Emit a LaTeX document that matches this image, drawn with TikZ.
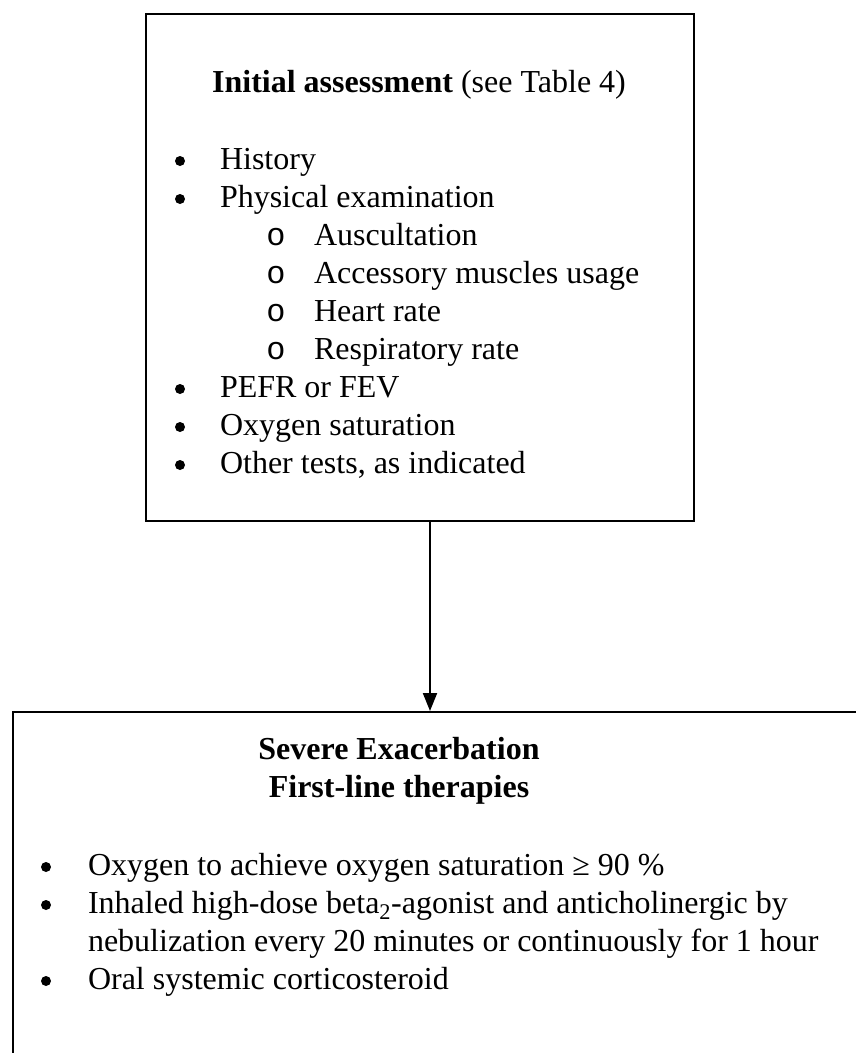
\documentclass[tikz,border=0pt]{standalone}
\usepackage{fontspec}
\setmainfont{Liberation Serif}
\newfontfamily\subbulletfont{Liberation Mono}
\usetikzlibrary{arrows.meta}
\tikzset{
  boxframe/.style={draw=black, line width=2pt, inner sep=0pt},
  txt/.style={anchor=base west, inner sep=0pt, outer sep=0pt},
  ctr/.style={anchor=base, inner sep=0pt, outer sep=0pt},
  bul/.style={circle, fill=black, inner sep=0pt, minimum size=10pt},
  subbul/.style={anchor=base, inner sep=0pt, outer sep=0pt, font=\fontsize{32}{38}\subbulletfont},
  flow/.style={draw=black, line width=2pt, -{Triangle[length=18pt,width=14pt]}}
}
\begin{document}
\begin{tikzpicture}[x=1pt,y=-1pt,font=\fontsize{32}{38}\selectfont]
\useasboundingbox (0,0) rectangle (856,1053);
\clip (0,0) rectangle (856,1053);
% boxes
\node[boxframe, anchor=north west, minimum width=548pt, minimum height=507pt] (top) at (145,13) {};
\node[boxframe, anchor=north west, minimum width=880pt, minimum height=380pt] (bot) at (12,711) {};
% connector
\draw[flow] (top.south -| 430,0) -- (bot.north -| 430,0);
% top box text (baselines)
\node[ctr] (t0) at (419,92) {\textbf{Initial assessment} (see Table 4)};
\node[bul] (b1) at (180,161) {};
\node[txt] (l1) at (220,169) {History};
\node[bul] (b2) at (180,199) {};
\node[txt] (l2) at (220,207) {Physical examination};
\node[subbul] (s1) at (276,245) {o};
\node[txt] (m1) at (314,245) {Auscultation};
\node[subbul] (s2) at (276,283) {o};
\node[txt] (m2) at (314,283) {Accessory muscles usage};
\node[subbul] (s3) at (276,321) {o};
\node[txt] (m3) at (314,321) {Heart rate};
\node[subbul] (s4) at (276,359) {o};
\node[txt] (m4) at (314,359) {Respiratory rate};
\node[bul] (b3) at (180,389) {};
\node[txt] (l3) at (220,397) {PEFR or FEV};
\node[bul] (b4) at (180,427) {};
\node[txt] (l4) at (220,435) {Oxygen saturation};
\node[bul] (b5) at (180,465) {};
\node[txt] (l5) at (220,473) {Other tests, as indicated};
% bottom box text (baselines)
\node[ctr] (h1) at (399,759) {\textbf{Severe Exacerbation}};
\node[ctr] (h2) at (399,797) {\textbf{First-line therapies}};
\node[bul] (c1) at (46,867) {};
\node[txt] (n1) at (88,875) {Oxygen to achieve oxygen saturation ≥ 90 \%};
\node[bul] (c2) at (46,905) {};
\node[txt] (n2) at (88,913) {Inhaled high-dose beta\textsubscript{2}-agonist and anticholinergic by};
\node[txt] (n2b) at (88,951) {nebulization every 20 minutes or continuously for 1 hour};
\node[bul] (c3) at (46,981) {};
\node[txt] (n3) at (88,989) {Oral systemic corticosteroid};
\end{tikzpicture}
\end{document}
